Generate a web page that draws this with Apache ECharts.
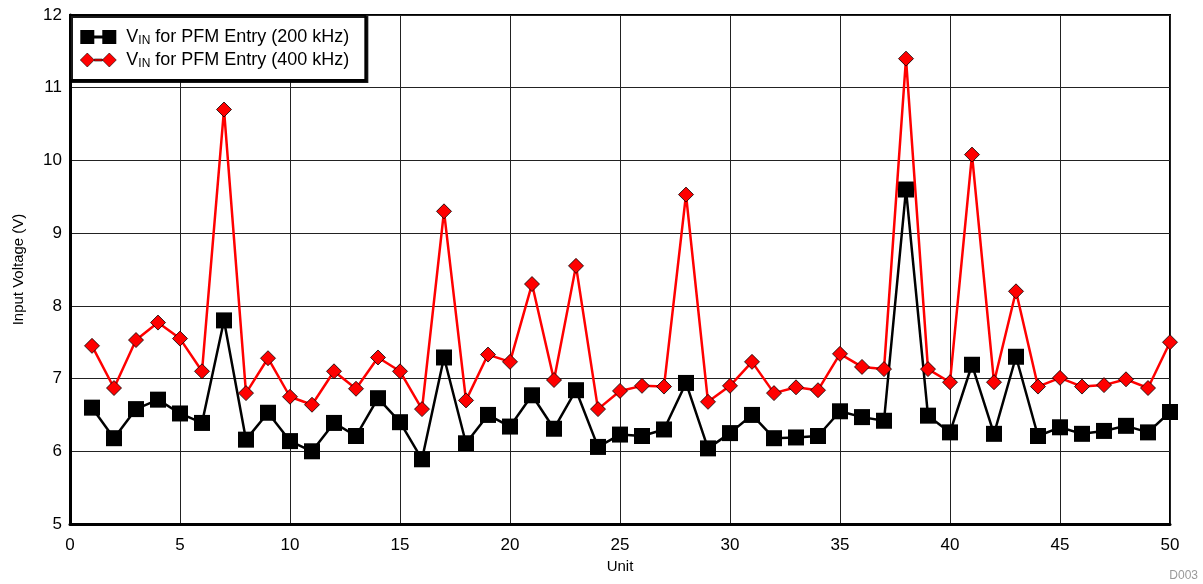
<!DOCTYPE html>
<html><head><meta charset="utf-8">
<script src="https://cdn.jsdelivr.net/npm/echarts@6/dist/echarts.min.js"></script>
<style>html,body{margin:0;padding:0;background:#fff}#c{width:1203px;height:584px}</style>
</head><body><div id="c"></div>
<script>
const units = Array.from({length:50},(_,i)=>i+1);
const vin200 = [6.60,6.18,6.58,6.71,6.52,6.39,7.80,6.16,6.53,6.14,
                6.00,6.39,6.21,6.73,6.40,5.89,7.29,6.11,6.50,6.34,
                6.77,6.31,6.84,6.06,6.23,6.21,6.30,6.94,6.04,6.25,
                6.50,6.18,6.19,6.21,6.55,6.47,6.42,9.60,6.49,6.26,
                7.19,6.24,7.30,6.21,6.33,6.24,6.28,6.35,6.26,6.54];
const vin400 = [7.45,6.87,7.53,7.77,7.55,7.10,10.70,6.80,7.28,6.75,
                6.64,7.10,6.86,7.29,7.10,6.58,9.30,6.70,7.33,7.23,
                8.30,6.98,8.55,6.58,6.83,6.90,6.89,9.53,6.68,6.90,
                7.23,6.80,6.88,6.84,7.34,7.16,7.13,11.40,7.13,6.95,
                10.08,6.95,8.20,6.89,7.01,6.89,6.91,6.99,6.87,7.50];
const xTicks = [0,5,10,15,20,25,30,35,40,45,50];
const yTicks = [5,6,7,8,9,10,11,12];

const FONT = 'Liberation Sans, Arial, sans-serif';
const chart = echarts.init(document.getElementById('c'), null, {renderer:'canvas'});
const pair = (a,b)=>a.map((v,i)=>[a[i],b[i]]);
const sqIcon = 'path://M0,0h14v14h-14z M14,5.5h8v3h-8z M22,0h14v14h-14z';
const dmIcon = 'path://M7,0L14,7L7,14L0,7z M14,6h8v2h-8z M29,0L36,7L29,14L22,7z';
chart.setOption({
  animation:false,
  grid:{left:70,right:33,top:15,bottom:60,show:true,borderColor:'#000',borderWidth:2,backgroundColor:'#fff'},
  legend:{
    left:70, top:15, orient:'vertical', padding:[13,16,10,10], itemGap:4,
    backgroundColor:'#fff', borderColor:'#000', borderWidth:2,
    shadowColor:'rgba(0,0,0,0.9)', shadowOffsetX:2, shadowOffsetY:2, shadowBlur:0,
    itemWidth:36, itemHeight:14,
    textStyle:{fontFamily:FONT,fontSize:18,color:'#000',
      rich:{p:{fontFamily:FONT,fontSize:18,color:'#000',padding:[0,0,0,5]},
            v:{fontFamily:FONT,fontSize:18,color:'#000'},
            s:{fontFamily:FONT,fontSize:12,color:'#000',verticalAlign:'bottom',padding:[8,0,0,0]}}},
    formatter:function(n){return n==='a'?'{p|V}{s|IN}{v| for PFM Entry (200 kHz)}':'{p|V}{s|IN}{v| for PFM Entry (400 kHz)}';},
    data:[{name:'a',icon:sqIcon,itemStyle:{color:'#000',borderWidth:0}},
          {name:'b',icon:dmIcon,itemStyle:{color:'#ff0000',borderColor:'#000',borderWidth:0.6}}]
  },
  xAxis:{type:'value',min:0,max:50,interval:5,name:'Unit',nameLocation:'middle',nameGap:33,
    nameTextStyle:{fontFamily:FONT,fontSize:15,color:'#000'},
    axisLine:{show:true,onZero:false,lineStyle:{color:'#000',width:3}},
    axisTick:{show:false},
    axisLabel:{fontFamily:FONT,fontSize:17,color:'#000',margin:13,
      formatter:v=>xTicks.includes(v)?String(v):''},
    splitLine:{show:true,lineStyle:{color:'#222',width:1}}},
  yAxis:{type:'value',min:5,max:12,interval:1,name:'Input Voltage (V)',nameLocation:'middle',nameGap:44,
    nameTextStyle:{fontFamily:FONT,fontSize:15,color:'#000'},
    axisLine:{show:true,onZero:false,lineStyle:{color:'#000',width:3}},
    axisTick:{show:false},
    axisLabel:{fontFamily:FONT,fontSize:17,color:'#000',margin:8,
      formatter:v=>yTicks.includes(v)?String(v):''},
    splitLine:{show:true,lineStyle:{color:'#222',width:1}}},
  series:[
    {name:'a',type:'line',data:pair(units,vin200),symbol:'rect',symbolSize:16,
     lineStyle:{color:'#000',width:2.5},itemStyle:{color:'#000'},z:3},
    {name:'b',type:'line',data:pair(units,vin400),symbol:'diamond',symbolSize:15,
     lineStyle:{color:'#ff0000',width:2.5},itemStyle:{color:'#ff0000',borderColor:'#000',borderWidth:0.8},z:4}
  ],
  graphic:[{type:'text',right:5,bottom:2,style:{text:'D003',fontFamily:FONT,fontSize:12,fill:'#999'}}]
});
</script></body></html>
